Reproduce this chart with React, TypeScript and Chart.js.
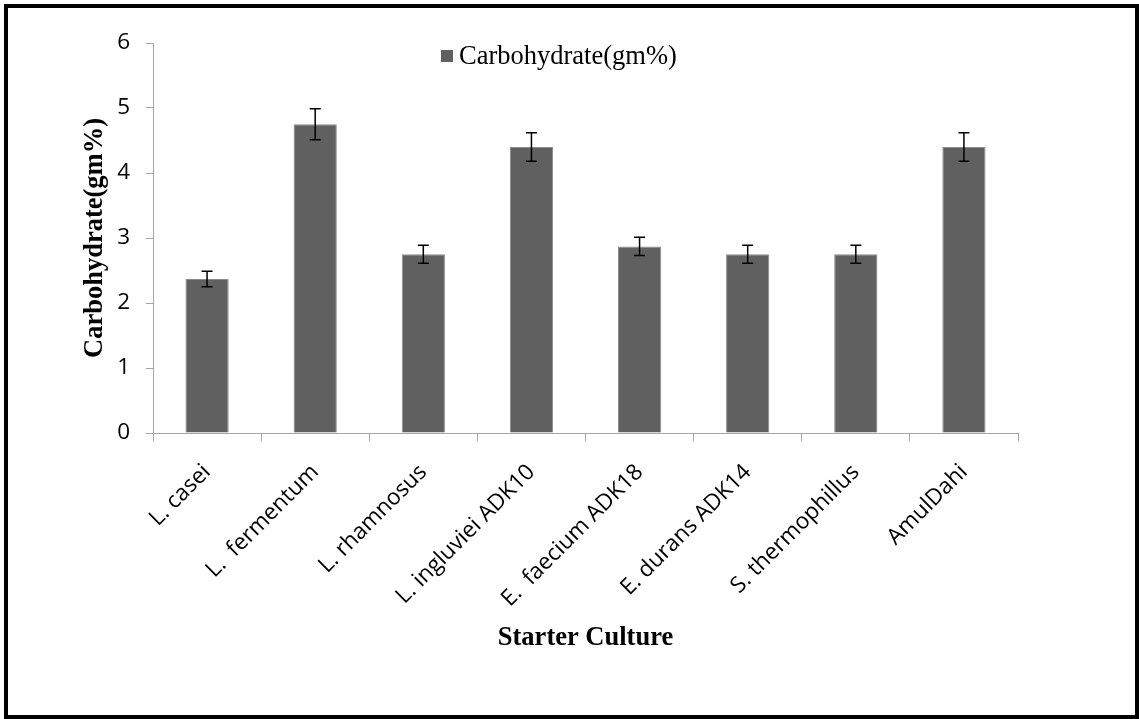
import React, { useEffect, useRef } from "react";
import { Chart, registerables } from "chart.js";

Chart.register(...registerables);

const categories = [
  "L. casei",
  "L.  fermentum",
  "L. rhamnosus",
  "L. ingluviei ADK10",
  "E.  faecium ADK18",
  "E. durans ADK14",
  "S. thermophillus",
  "AmulDahi",
];
const carbohydrate = [2.37, 4.75, 2.75, 4.4, 2.87, 2.75, 2.75, 4.4];
const errors = [0.12, 0.24, 0.14, 0.22, 0.14, 0.14, 0.14, 0.22];
const seriesLabel = "Carbohydrate(gm%)";
const xTitle = "Starter Culture";
const yTitle = "Carbohydrate(gm%)";

const BAR = "#606060";
const AXIS = "#a6a6a6";

const errorBarPlugin = {
  id: "errorBars",
  afterDatasetsDraw(chart: any) {
    const ctx = chart.ctx;
    const meta = chart.getDatasetMeta(0);
    const y = chart.scales.y;
    ctx.save();
    ctx.strokeStyle = "#000";
    ctx.lineWidth = 1.5;
    meta.data.forEach((bar: any, i: number) => {
      const v = carbohydrate[i];
      const e = errors[i];
      const top = y.getPixelForValue(v + e);
      const bot = y.getPixelForValue(v - e);
      const x = bar.x;
      ctx.beginPath();
      ctx.moveTo(x, top);
      ctx.lineTo(x, bot);
      ctx.moveTo(x - 5.5, top);
      ctx.lineTo(x + 5.5, top);
      ctx.moveTo(x - 5.5, bot);
      ctx.lineTo(x + 5.5, bot);
      ctx.stroke();
    });
    ctx.restore();
  },
};

const legendPlugin = {
  id: "customLegend",
  afterDraw(chart: any) {
    const ctx = chart.ctx;
    ctx.save();
    ctx.fillStyle = BAR;
    ctx.fillRect(441, 50, 12, 12);
    ctx.fillStyle = "#000";
    ctx.font = "26.5px 'Liberation Serif'";
    ctx.textBaseline = "middle";
    ctx.textAlign = "left";
    ctx.fillText(seriesLabel, 459, 57);
    ctx.restore();
  },
};

export default function App() {
  const ref = useRef<HTMLCanvasElement | null>(null);

  useEffect(() => {
    document.body.style.margin = "0";
    const canvas = ref.current;
    if (!canvas) return;
    const chart = new Chart(canvas, {
      type: "bar",
      data: {
        labels: categories,
        datasets: [
          {
            label: seriesLabel,
            data: carbohydrate,
            backgroundColor: BAR,
            borderColor: "#8c8c8c",
            borderWidth: 1,
            barPercentage: 0.4,
            categoryPercentage: 1,
          },
        ],
      },
      options: {
        animation: false,
        responsive: false,
        devicePixelRatio: 1,
        layout: { padding: { left: 0, top: 43, right: 121, bottom: 0 } },
        plugins: {
          legend: { display: false },
          tooltip: { enabled: false },
        },
        scales: {
          x: {
            afterFit: (axis: any) => {
              axis.height = 286;
            },
            grid: {
              display: true,
              offset: true,
              drawOnChartArea: false,
              tickLength: 8,
              color: AXIS,
            },
            border: { color: AXIS, width: 1 },
            ticks: {
              minRotation: 45,
              maxRotation: 45,
              autoSkip: false,
              color: "#000",
              padding: 18,
              font: { family: "'Open Sans'", size: 22.5 },
            },
            title: {
              display: true,
              text: xTitle,
              color: "#000",
              font: { family: "'Liberation Serif'", size: 26.5, weight: "bold" },
              padding: { top: 0, bottom: 65 },
            },
          },
          y: {
            min: 0,
            max: 6,
            afterFit: (axis: any) => {
              axis.width = 153;
            },
            grid: {
              display: true,
              drawOnChartArea: false,
              tickLength: 7,
              color: AXIS,
            },
            border: { color: AXIS, width: 1 },
            ticks: {
              stepSize: 1,
              color: "#000",
              padding: 16,
              font: { family: "'Open Sans'", size: 22.5 },
            },
            title: {
              display: true,
              text: yTitle,
              color: "#000",
              font: { family: "'Liberation Serif'", size: 26.5, weight: "bold" },
              padding: { top: 79, bottom: 0 },
            },
          },
        },
      },
      plugins: [errorBarPlugin, legendPlugin],
    } as any);
    return () => chart.destroy();
  }, []);

  return (
    <div
      style={{
        position: "relative",
        width: 1139,
        height: 719,
        background: "#fff",
        overflow: "hidden",
      }}
    >
      <canvas ref={ref} width={1139} height={719} style={{ display: "block" }} />
      <div
        style={{
          position: "absolute",
          left: 4,
          top: 4,
          width: 1135,
          height: 715,
          border: "4px solid #000",
          boxSizing: "border-box",
          pointerEvents: "none",
        }}
      />
    </div>
  );
}
